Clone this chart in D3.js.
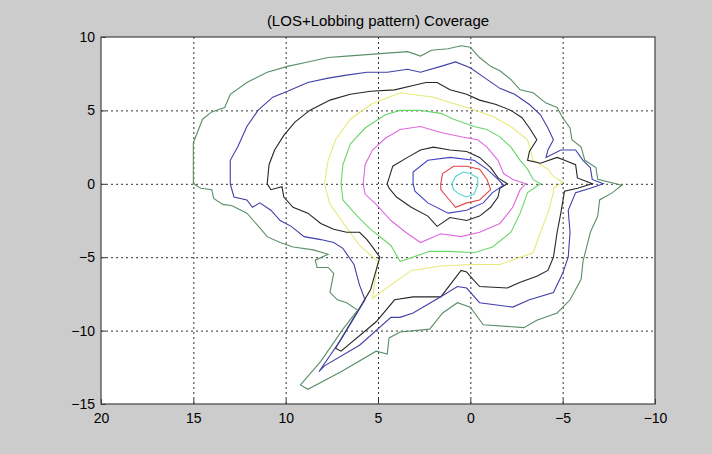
<!DOCTYPE html>
<html>
<head>
<meta charset="utf-8">
<script src="https://cdn.jsdelivr.net/npm/d3@7/dist/d3.min.js"></script>
<style>
    body { margin: 0; background: #cccccc; }
    svg { display: block; font-family: "Liberation Sans", Arial, sans-serif; }
    .axis text { font-size: 14px; fill: #000; }
    .grid line { stroke: #333; stroke-dasharray: 2,3; }
    .title { font-size: 15px; fill: #000; }
    .contour { fill: none; stroke-width: 1.1; }
</style>
</head>
<body>
<div id="chart" style="width:712px;height:454px"></div>
<script>
const xTicks = [20, 15, 10, 5, 0, -5, -10];
const yTicks = [10, 5, 0, -5, -10, -15];
const title = '(LOS+Lobbing pattern) Coverage';

// contour lines, [x, y]
const greenOuter = [[15.0,0],[15.0,2.8],[14.5,4.4],[14.0,4.9],[13.3,5.2],[13.0,6.1],[12.1,6.9],[11.0,7.6],[9.9,8.0],[8.8,8.3],[7.7,8.6],[6.7,8.7],[5.6,8.8],[4.5,8.9],[3.4,9.0],[2.7,8.7],[2.1,9.1],[1.2,9.2],[0.5,9.4],[0.0,9.3],[-0.5,8.6],[-1.1,8.0],[-1.6,7.7],[-2.2,7.1],[-2.7,6.4],[-3.4,6.2],[-4.1,5.5],[-4.7,5.2],[-5.0,4.5],[-5.4,3.8],[-5.5,3.0],[-6.0,2.5],[-6.2,1.6],[-6.8,1.1],[-6.9,0.3],[-8.2,-0.1],[-7.7,-0.6],[-7.0,-1.1],[-6.9,-2.2],[-6.5,-3.3],[-6.3,-4.3],[-6.1,-5.3],[-6.0,-6.5],[-5.4,-7.9],[-4.7,-8.8],[-3.6,-9.3],[-2.9,-9.8],[-0.7,-9.6],[0,-8.4],[0.7,-8.1],[1.5,-8.8],[2.2,-9.9],[3.8,-10.1],[4.4,-10.5],[4.5,-11.6],[5.1,-11.4],[7.0,-12.8],[8.8,-14.0],[9.2,-13.7],[8.1,-12.1],[6.9,-9.9],[6.1,-8.6],[6.7,-8.1],[7.2,-7.9],[7.6,-7.4],[7.4,-6.1],[7.7,-5.7],[8.3,-5.7],[8.4,-5.2],[7.7,-4.8],[8.5,-4.5],[9.6,-4.3],[10.3,-4.0],[11.0,-3.6],[11.4,-3.0],[12.1,-2.0],[12.9,-1.5],[13.4,-1.4],[13.9,-1.0],[14.0,-0.4],[14.6,-0.3]];

const blueOuter = [[13.0,0],[13.0,1.6],[12.6,2.5],[12.1,3.9],[11.5,5.0],[10.7,5.9],[9.9,6.3],[8.8,6.9],[7.7,7.2],[6.7,7.4],[5.6,7.6],[4.5,7.6],[3.4,7.8],[2.7,7.6],[1.6,8.0],[0.8,8.3],[0,7.9],[-0.8,7.2],[-1.6,6.5],[-2.4,6.1],[-3.2,5.4],[-3.8,4.7],[-4.2,3.8],[-4.5,3.0],[-4.2,2.3],[-4.1,1.8],[-4.9,2.3],[-5.7,2.3],[-6.1,1.6],[-6.5,1.1],[-6.6,0.3],[-7.2,0],[-6.5,-0.3],[-5.7,-0.6],[-5.3,-1.8],[-5.4,-3.3],[-5.3,-5.0],[-5.0,-6.1],[-4.5,-7.4],[-3.2,-7.9],[-2.3,-8.4],[-0.5,-8.1],[0.2,-7.1],[0.7,-7.0],[1.6,-7.7],[3.1,-8.8],[3.8,-9.1],[4.3,-9.1],[6.0,-11.0],[7.9,-12.4],[8.2,-12.8],[7.0,-10.6],[5.7,-7.9],[6.0,-6.9],[6.3,-5.5],[6.9,-4.4],[7.4,-4.0],[8.1,-3.8],[9.0,-3.6],[9.7,-2.9],[10.3,-2.5],[10.8,-1.8],[11.4,-1.3],[11.8,-1.6],[12.1,-1.1],[12.8,-0.9]];

const blackOuter = [[11.0,0],[10.9,1.3],[10.6,2.3],[10.1,3.3],[9.5,4.2],[8.7,5.0],[7.6,5.7],[6.5,6.1],[5.4,6.3],[4.1,6.4],[3.1,6.7],[2.4,6.9],[1.8,6.9],[1.1,6.4],[0.2,6.1],[-0.5,5.7],[-1.4,5.4],[-2.2,5.0],[-2.8,4.5],[-3.2,3.8],[-3.6,3.0],[-3.2,2.2],[-3.1,1.6],[-3.8,1.4],[-4.7,1.8],[-5.1,1.6],[-5.7,1.3],[-5.8,0.4],[-6.6,0],[-5.8,-0.3],[-5.1,-0.5],[-4.9,-2.0],[-4.7,-3.3],[-4.5,-5.0],[-4.2,-5.9],[-3.6,-6.3],[-2.7,-6.7],[-2.0,-7.1],[-0.5,-7.0],[0,-6.3],[0.2,-6.0],[0.5,-5.9],[1.6,-7.7],[3.1,-7.7],[4.1,-7.9],[5.1,-9.4],[7.0,-11.4],[7.3,-11.2],[5.4,-7.2],[4.9,-5.0],[5.3,-4.3],[5.6,-3.8],[6.0,-3.3],[6.7,-3.3],[7.4,-3.1],[8.1,-2.7],[8.8,-2.0],[9.6,-1.6],[10.1,-0.9],[10.2,-0.2],[10.8,-0.4]];

const yellowInner = [[7.9,0],[7.7,1.6],[7.3,3.0],[6.5,4.4],[5.4,5.4],[3.8,6.2],[2.0,5.9],[0.2,5.2],[-1.2,4.6],[-2.2,3.9],[-3.1,3.0],[-3.4,1.6],[-4.2,1.0],[-4.5,0.5],[-5.0,0.1],[-4.5,-0.3],[-4.5,-0.6],[-4.2,-2.0],[-3.8,-3.3],[-3.4,-4.7],[-1.6,-5.5],[0,-5.5],[1.6,-5.6],[3.2,-5.9],[5.3,-7.8],[5.0,-5.3],[6.0,-4.2],[6.8,-2.8],[7.6,-1.4]];

const greenInner = [[7.0,0],[6.9,1.3],[6.5,2.7],[5.7,3.8],[4.6,4.7],[3.8,5.0],[2.7,5.0],[1.6,4.8],[0.9,4.4],[-0.2,3.9],[-0.9,3.7],[-1.6,3.2],[-2.2,2.5],[-2.7,1.6],[-3.1,1.0],[-3.4,0.3],[-3.8,0],[-3.1,-0.6],[-2.7,-2.0],[-2.2,-3.3],[-1.2,-4.3],[-0.2,-4.7],[1.1,-4.6],[2.2,-4.6],[3.8,-5.3],[4.3,-4.2],[5.4,-3.1],[6.2,-2.1],[6.9,-1.1]];

const magentaInner = [[5.8,0],[5.7,1.3],[5.3,2.3],[4.6,3.1],[3.8,3.7],[2.7,3.9],[1.6,3.5],[0.5,3.2],[-0.4,3.0],[-0.9,2.5],[-1.5,1.6],[-1.8,0.7],[-2.3,0.3],[-3.0,0],[-2.7,-0.4],[-2.3,-1.6],[-1.6,-2.7],[-0.5,-3.3],[0.5,-3.6],[1.6,-3.4],[2.7,-4.0],[3.5,-3.3],[4.3,-2.5],[5.1,-1.4],[5.7,-0.7]];

const blackInner = [[4.5,0],[4.2,1.2],[3.4,1.8],[2.7,2.3],[2.0,2.5],[1.1,2.3],[0.2,2.2],[-0.5,1.8],[-1.1,1.1],[-1.5,0.4],[-2.0,0],[-1.6,-0.3],[-1.5,-0.9],[-1.1,-1.6],[-0.5,-2.2],[0.2,-2.5],[1.1,-2.3],[1.8,-2.9],[2.3,-2.2],[3.2,-1.6],[4.0,-0.9],[4.4,-0.3]];

const blueInner = [[3.1,0],[3.1,0.8],[2.3,1.6],[1.1,1.8],[-0.2,1.6],[-0.9,1.0],[-1.5,0.3],[-1.8,-0.1],[-1.2,-0.6],[-0.7,-1.3],[0.2,-1.8],[1.2,-2.0],[2.3,-1.3],[3.0,-0.5]];

const redInner = [[1.6,0],[1.5,0.7],[0.9,1.2],[0.2,1.2],[-0.5,1.0],[-0.9,0.3],[-1.1,-0.4],[-0.5,-1.1],[0.2,-1.3],[0.8,-1.6],[1.2,-1.0],[1.6,-0.4]];

const cyanInner = [[1.0,0],[0.8,0.5],[0.4,0.8],[0,0.7],[-0.4,0.4],[-0.4,-0.1],[-0.2,-0.7],[0.2,-0.9],[0.6,-0.7],[0.9,-0.4]];

const series = [yellowInner, greenInner, magentaInner, blackInner, blueInner, redInner, cyanInner, blackOuter, blueOuter, greenOuter];
const seriesColors = ['#e8e87c', '#6ad66a', '#e068e0', '#2a2a2a', '#4040c4', '#e24444', '#55d4d4', '#262626', '#4040a8', '#5a8f66'];

const svgWidth = 712, svgHeight = 454;
const margin = {top: 37, right: 57, bottom: 50, left: 101};
const innerWidth = svgWidth - margin.left - margin.right;
const innerHeight = svgHeight - margin.top - margin.bottom;

const svg = d3.select('#chart').append('svg')
    .attr('width', svgWidth)
    .attr('height', svgHeight);

svg.append('rect')
    .attr('width', svgWidth)
    .attr('height', svgHeight)
    .attr('fill', '#cccccc');

const g = svg.append('g')
    .attr('transform', `translate(${margin.left},${margin.top})`);

const xScale = d3.scaleLinear()
    .domain([20, -10])
    .range([0, innerWidth]);

const yScale = d3.scaleLinear()
    .domain([-15, 10])
    .range([innerHeight, 0]);

g.append('rect')
    .attr('width', innerWidth)
    .attr('height', innerHeight)
    .attr('fill', '#ffffff');

// dotted grid, labels come from the axes below
const xGrid = g.append('g').attr('class', 'grid')
    .attr('transform', `translate(0,${innerHeight})`)
    .call(d3.axisBottom(xScale).tickValues(xTicks.slice(1, -1)).tickSize(-innerHeight));
xGrid.select('.domain').remove();
xGrid.selectAll('text').remove();

const yGrid = g.append('g').attr('class', 'grid')
    .call(d3.axisLeft(yScale).tickValues(yTicks.slice(1, -1)).tickSize(-innerWidth));
yGrid.select('.domain').remove();
yGrid.selectAll('text').remove();

g.append('clipPath').attr('id', 'plotClip')
    .append('rect').attr('width', innerWidth).attr('height', innerHeight);

const lineGenerator = d3.line()
    .x(d => xScale(d[0]))
    .y(d => yScale(d[1]))
    .curve(d3.curveLinearClosed);

g.append('g').attr('clip-path', 'url(#plotClip)')
    .selectAll('path')
    .data(series)
    .join('path')
    .attr('class', 'contour')
    .attr('stroke', (d, i) => seriesColors[i])
    .attr('d', lineGenerator);

// axes with short inward ticks
const xAxisG = g.append('g').attr('class', 'axis')
    .attr('transform', `translate(0,${innerHeight})`)
    .call(d3.axisBottom(xScale).tickValues(xTicks).tickSize(-5).tickPadding(9));
xAxisG.select('.domain').remove();
xAxisG.selectAll('line').attr('stroke', '#333');

const yAxisG = g.append('g').attr('class', 'axis')
    .call(d3.axisLeft(yScale).tickValues(yTicks).tickSize(-5).tickPadding(6));
yAxisG.select('.domain').remove();
yAxisG.selectAll('line').attr('stroke', '#333');

g.append('rect')
    .attr('width', innerWidth)
    .attr('height', innerHeight)
    .attr('fill', 'none')
    .attr('stroke', '#444')
    .attr('stroke-width', 1.2);

svg.append('text')
    .attr('class', 'title')
    .attr('x', margin.left + innerWidth / 2)
    .attr('y', 26)
    .attr('text-anchor', 'middle')
    .text(title);
</script>
</body>
</html>
